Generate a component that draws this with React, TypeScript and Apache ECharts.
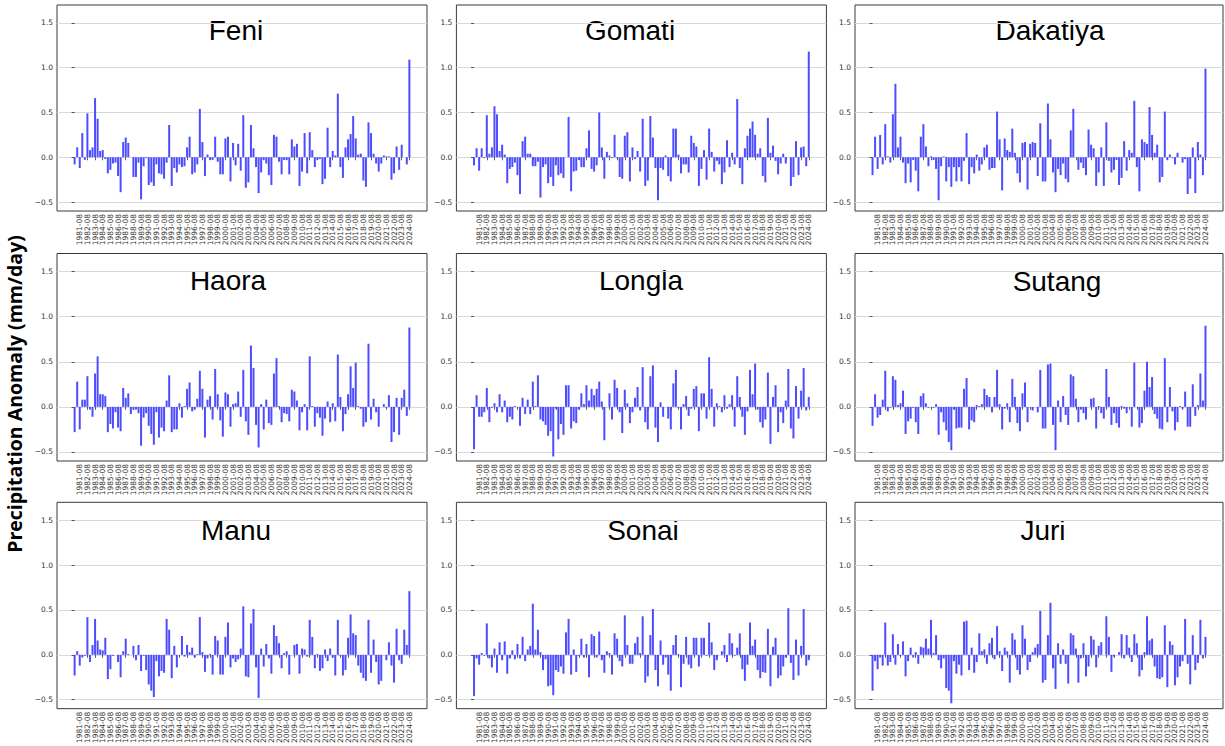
import React, { useEffect, useRef } from 'react';
import * as echarts from 'echarts';

// ---------- data ----------
const YEARS = Array.from({ length: 44 }, (_, k) => 1981 + k);
const MONTHS = ['06', '07', '08'];
const CATEGORIES: string[] = YEARS.flatMap((y) => MONTHS.map((m) => `${y}-${m}`));
const Y_TICKS = [-0.5, 0, 0.5, 1.0, 1.5];

const PANEL_NAMES = ['Feni', 'Gomati', 'Dakatiya', 'Haora', 'Longla', 'Sutang', 'Manu', 'Sonai', 'Juri'];

const FENI = [
  -0.08, 0.11, -0.12, 0.27, -0.03, 0.49, 0.08, 0.11, 0.66, 0.43, 0.07, 0.08,
  -0.02, -0.18, -0.14, -0.07, -0.06, -0.21, -0.39, 0.17, 0.22, 0.16, 0.0, -0.22,
  -0.22, -0.06, -0.47, -0.1, -0.01, -0.31, -0.28, -0.32, -0.08, -0.18, -0.19, -0.24,
  -0.06, 0.36, -0.32, -0.12, -0.17, -0.08, -0.11, -0.1, 0.11, 0.23, -0.19, -0.17,
  -0.08, 0.54, 0.17, -0.21, 0.03, -0.03, -0.03, 0.23, -0.05, -0.19, -0.19, 0.21,
  0.23, -0.27, 0.16, -0.09, 0.15, -0.15, 0.47, -0.34, -0.28, 0.36, 0.1, -0.11,
  -0.4, -0.17, -0.03, -0.07, -0.2, -0.31, 0.25, 0.23, -0.05, -0.19, -0.03, -0.03,
  -0.19, 0.2, 0.12, 0.15, -0.32, -0.16, 0.27, -0.18, 0.28, 0.08, -0.11, -0.03,
  -0.02, -0.3, -0.24, 0.33, -0.11, 0.07, 0.02, 0.71, -0.11, -0.23, 0.11, 0.2,
  0.26, 0.46, 0.21, 0.03, 0.04, -0.26, -0.33, 0.39, 0.27, 0.04, -0.07, -0.16,
  -0.07, 0.02, 0.01, 0.01, -0.25, -0.18, 0.12, -0.14, 0.14, 0.0, -0.08, 1.09,
];
const GOMATI = [
  -0.09, 0.1, -0.15, 0.1, -0.01, 0.47, 0.04, 0.11, 0.57, 0.48, 0.07, 0.14,
  0.03, -0.29, -0.13, -0.11, -0.06, -0.2, -0.41, 0.18, 0.23, 0.04, 0.04, -0.1,
  -0.1, -0.05, -0.45, -0.11, -0.08, -0.29, -0.22, -0.32, -0.09, -0.2, -0.18, -0.23,
  0.0, 0.45, -0.38, -0.16, -0.15, -0.03, -0.11, -0.11, 0.1, 0.3, -0.13, -0.16,
  -0.09, 0.5, 0.11, -0.24, 0.06, 0.02, -0.01, 0.25, -0.01, -0.22, -0.24, 0.24,
  0.28, -0.27, 0.11, -0.02, 0.07, -0.16, 0.43, -0.32, -0.26, 0.46, 0.22, -0.12,
  -0.48, -0.12, -0.14, 0.02, -0.21, -0.27, 0.32, 0.32, 0.03, -0.18, -0.08, -0.08,
  -0.17, 0.24, 0.16, 0.12, -0.32, -0.13, 0.08, -0.25, 0.32, 0.06, -0.16, -0.04,
  -0.08, -0.3, -0.17, 0.19, -0.11, 0.05, -0.08, 0.65, -0.12, -0.3, 0.1, 0.24,
  0.32, 0.4, 0.25, 0.04, 0.1, -0.21, -0.28, 0.44, 0.05, 0.13, -0.04, -0.19,
  -0.07, 0.04, -0.07, 0.0, -0.32, -0.22, 0.18, -0.2, 0.11, 0.12, -0.1, 1.18,
];
const DAKATIYA = [
  -0.2, 0.23, -0.13, 0.25, -0.08, 0.37, 0.01, -0.06, 0.48, 0.82, 0.11, 0.23,
  -0.06, -0.29, -0.07, -0.28, -0.03, -0.15, -0.38, 0.23, 0.37, 0.12, -0.1, 0.01,
  -0.03, -0.13, -0.48, -0.1, 0.01, -0.27, -0.11, -0.33, -0.11, -0.27, -0.11, -0.27,
  -0.04, 0.27, -0.3, -0.11, -0.18, 0.03, -0.15, -0.08, 0.11, 0.14, -0.14, -0.12,
  -0.12, 0.51, 0.2, -0.37, 0.21, 0.08, 0.06, 0.32, 0.05, -0.18, -0.28, 0.16,
  0.17, -0.36, 0.15, 0.17, 0.16, -0.21, 0.38, -0.27, -0.27, 0.6, 0.2, -0.17,
  -0.39, -0.13, -0.2, -0.07, -0.24, -0.28, 0.3, 0.54, 0.0, -0.14, -0.06, -0.12,
  -0.2, 0.31, 0.14, 0.1, -0.32, -0.17, 0.11, -0.32, 0.39, -0.04, -0.17, -0.14,
  -0.03, -0.31, -0.23, 0.18, -0.15, 0.08, 0.05, 0.63, -0.11, -0.38, 0.2, 0.17,
  0.15, 0.56, 0.25, 0.05, 0.14, -0.28, -0.22, 0.51, -0.03, 0.03, -0.01, -0.08,
  0.05, 0.0, -0.06, -0.02, -0.41, -0.24, 0.11, -0.4, 0.17, 0.03, -0.2, 0.99,
];
const HAORA = [
  -0.28, 0.28, -0.25, 0.08, 0.08, 0.34, -0.03, -0.11, 0.37, 0.56, 0.14, 0.14,
  0.12, -0.28, -0.19, -0.24, -0.06, -0.23, -0.27, 0.21, 0.1, 0.15, -0.08, -0.03,
  -0.03, -0.07, -0.43, -0.12, -0.07, -0.21, -0.3, -0.42, -0.06, -0.34, -0.23, -0.27,
  0.07, 0.35, -0.28, -0.25, -0.25, 0.04, -0.12, 0.01, 0.2, 0.27, -0.05, -0.03,
  0.09, 0.4, 0.2, -0.34, 0.08, 0.12, -0.14, 0.42, 0.14, -0.15, -0.33, 0.16,
  0.14, -0.22, 0.03, 0.04, 0.17, -0.11, 0.41, -0.16, -0.31, 0.68, 0.43, -0.2,
  -0.45, 0.03, -0.25, 0.08, -0.18, -0.2, 0.37, 0.54, 0.01, -0.17, -0.07, -0.08,
  -0.16, 0.19, 0.17, 0.07, -0.26, -0.06, 0.03, -0.26, 0.56, 0.01, -0.22, -0.07,
  -0.12, -0.32, -0.13, 0.06, -0.17, 0.04, -0.16, 0.58, 0.11, -0.27, -0.08, 0.14,
  0.45, 0.21, 0.49, 0.01, -0.02, -0.22, -0.17, 0.7, -0.14, 0.09, -0.06, -0.22,
  0.0, 0.03, -0.01, 0.13, -0.39, -0.28, 0.1, -0.31, 0.1, 0.19, -0.1, 0.88,
];
const LONGLA = [
  -0.47, 0.13, -0.11, -0.11, -0.06, 0.21, -0.17, -0.01, 0.04, -0.06, 0.14, -0.06,
  0.07, -0.17, -0.11, -0.14, 0.01, 0.0, -0.21, 0.1, -0.08, 0.08, -0.08, 0.28,
  0.01, 0.35, -0.14, -0.16, -0.2, -0.32, -0.27, -0.55, -0.02, -0.36, -0.19, -0.31,
  0.24, 0.24, -0.24, -0.16, -0.18, -0.03, 0.15, 0.03, 0.24, 0.07, 0.2, 0.13,
  0.2, 0.28, 0.06, -0.37, 0.0, 0.15, -0.14, 0.3, 0.21, -0.06, -0.29, 0.19,
  0.04, -0.18, -0.06, 0.1, 0.22, -0.04, 0.44, -0.17, -0.25, 0.34, 0.46, -0.23,
  -0.39, 0.05, -0.11, 0.0, -0.13, -0.25, 0.26, 0.41, -0.01, -0.25, 0.03, 0.12,
  -0.1, -0.02, 0.2, 0.23, -0.27, 0.15, 0.15, -0.13, 0.55, 0.2, -0.22, 0.04,
  0.01, -0.06, 0.13, -0.02, 0.03, 0.13, -0.22, 0.34, 0.11, -0.11, -0.31, -0.05,
  0.41, 0.14, 0.48, -0.03, -0.17, -0.23, -0.14, 0.38, -0.41, 0.11, 0.24, -0.28,
  -0.06, -0.18, 0.07, 0.42, -0.24, -0.35, 0.23, -0.13, 0.18, 0.43, -0.04, 0.11,
];
const SUTANG = [
  -0.21, 0.14, -0.12, -0.09, 0.08, 0.4, -0.05, -0.01, 0.34, 0.3, 0.02, 0.04,
  0.18, -0.3, -0.16, -0.13, -0.01, -0.17, -0.3, 0.12, 0.15, 0.04, -0.01, 0.0,
  -0.01, 0.03, -0.31, -0.06, -0.17, -0.26, -0.39, -0.48, -0.03, -0.24, -0.23, -0.23,
  0.2, 0.32, -0.25, -0.15, -0.17, 0.02, 0.01, 0.03, 0.2, 0.13, 0.11, -0.06,
  0.11, 0.41, 0.03, -0.25, -0.02, 0.04, -0.17, 0.31, 0.11, -0.18, -0.27, 0.15,
  0.27, -0.17, 0.0, -0.04, 0.0, -0.06, 0.41, -0.24, -0.24, 0.47, 0.48, -0.2,
  -0.48, 0.07, -0.17, 0.12, -0.09, -0.2, 0.36, 0.34, 0.09, -0.17, -0.03, -0.07,
  -0.14, 0.0, 0.09, 0.1, -0.24, 0.01, -0.07, -0.13, 0.42, 0.11, -0.2, -0.07,
  -0.18, -0.23, 0.01, -0.02, -0.07, 0.0, -0.22, 0.49, 0.0, -0.23, -0.18, 0.18,
  0.5, 0.22, 0.33, -0.08, -0.13, -0.24, -0.25, 0.54, -0.17, 0.22, -0.05, -0.26,
  -0.17, 0.01, -0.02, 0.17, -0.22, -0.22, 0.25, -0.1, 0.02, 0.37, 0.07, 0.9,
];
const MANU = [
  -0.23, 0.04, -0.12, -0.03, -0.01, 0.42, -0.08, 0.11, 0.4, 0.16, 0.06, 0.05,
  0.19, -0.27, -0.16, -0.01, 0.0, -0.08, -0.25, 0.04, 0.18, 0.01, 0.0, 0.1,
  -0.06, 0.11, -0.18, -0.01, -0.17, -0.33, -0.4, -0.47, -0.07, -0.24, -0.18, -0.2,
  0.4, 0.28, -0.26, 0.1, -0.14, 0.0, 0.21, -0.02, 0.11, 0.03, 0.08, -0.03,
  0.01, 0.42, 0.03, -0.19, -0.04, 0.01, -0.22, 0.21, 0.16, -0.22, -0.22, 0.2,
  0.36, -0.14, -0.04, -0.08, -0.05, 0.07, 0.54, -0.24, -0.25, 0.35, 0.51, -0.14,
  -0.48, 0.07, -0.13, 0.12, -0.04, -0.21, 0.33, 0.21, 0.13, -0.15, 0.02, 0.04,
  -0.22, 0.0, 0.11, 0.12, -0.21, 0.07, 0.06, -0.02, 0.39, 0.2, -0.15, 0.01,
  -0.18, -0.15, 0.06, -0.07, 0.07, -0.03, -0.23, 0.39, -0.01, -0.23, -0.17, 0.19,
  0.45, 0.24, 0.22, -0.12, -0.2, -0.26, -0.29, 0.39, -0.2, 0.17, -0.08, -0.33,
  -0.29, 0.0, -0.06, 0.14, -0.12, -0.31, 0.29, -0.06, -0.1, 0.28, 0.11, 0.71,
];
const SONAI = [
  -0.46, -0.04, -0.11, 0.02, -0.01, 0.35, -0.04, -0.14, 0.07, -0.2, 0.14, -0.06,
  0.15, -0.21, -0.04, 0.05, -0.05, 0.12, -0.04, 0.2, -0.07, 0.06, 0.1, 0.57,
  0.06, 0.28, 0.03, -0.17, -0.05, -0.35, -0.34, -0.45, -0.17, -0.19, -0.13, -0.21,
  0.25, 0.4, -0.22, 0.06, -0.19, -0.01, 0.18, -0.03, 0.12, -0.25, 0.23, 0.21,
  -0.03, 0.26, -0.06, -0.2, 0.04, 0.02, -0.22, 0.24, 0.18, -0.07, -0.13, 0.44,
  0.11, -0.1, -0.1, 0.13, 0.2, 0.02, 0.43, -0.31, -0.24, 0.22, 0.51, -0.17,
  -0.35, 0.16, -0.11, -0.03, -0.22, -0.4, 0.11, 0.22, 0.01, -0.36, -0.1, 0.2,
  -0.11, -0.15, 0.19, 0.19, -0.13, 0.19, 0.19, -0.01, 0.36, 0.14, -0.17, -0.06,
  0.0, 0.04, 0.11, -0.08, 0.24, 0.13, -0.01, 0.08, 0.24, -0.16, -0.29, -0.11,
  0.36, 0.1, 0.17, -0.17, -0.26, -0.19, -0.2, 0.29, -0.35, 0.09, 0.19, -0.26,
  -0.23, -0.13, -0.03, 0.52, -0.09, -0.28, 0.17, -0.23, 0.1, 0.51, -0.12, -0.06,
];
const JURI = [
  -0.4, -0.07, -0.16, -0.03, -0.12, 0.36, -0.12, -0.08, 0.23, -0.11, 0.12, -0.01,
  0.15, -0.24, -0.07, 0.08, -0.03, 0.03, -0.1, 0.09, 0.08, 0.18, 0.07, 0.39,
  0.02, 0.22, -0.06, -0.15, -0.04, -0.37, -0.4, -0.54, -0.07, -0.21, -0.11, -0.23,
  0.37, 0.38, -0.17, 0.08, -0.2, -0.08, 0.24, 0.04, 0.06, -0.1, 0.13, 0.19,
  -0.05, 0.32, 0.04, -0.18, 0.08, 0.04, -0.31, 0.24, 0.17, -0.17, -0.22, 0.33,
  0.18, -0.17, -0.08, 0.03, 0.08, 0.12, 0.49, -0.31, -0.28, 0.22, 0.58, -0.15,
  -0.38, 0.13, -0.1, 0.06, -0.1, -0.32, 0.24, 0.22, 0.07, -0.31, -0.04, 0.13,
  -0.24, -0.13, 0.21, 0.17, -0.14, 0.1, 0.14, 0.0, 0.43, 0.2, -0.19, -0.02,
  0.0, 0.03, 0.23, -0.04, 0.22, 0.08, -0.08, 0.23, 0.13, -0.24, -0.17, 0.03,
  0.43, 0.16, 0.18, -0.13, -0.26, -0.27, -0.25, 0.33, -0.36, 0.15, 0.11, -0.34,
  -0.25, -0.13, -0.07, 0.4, -0.1, -0.33, 0.22, -0.17, -0.09, 0.39, -0.04, 0.2,
];

const PANEL_DATA = [FENI, GOMATI, DAKATIYA, HAORA, LONGLA, SUTANG, MANU, SONAI, JURI];

// ---------- layout ----------
const COL_LEFT = [57, 456.4, 855];
const COL_WIDTH = [370, 370, 368];
const ROW_TOP = [5, 253.5, 502.3];
const ROW_HEIGHT = [206, 207.5, 208.4];
const TITLE_X = [236, 630, 1050, 228, 641, 1057, 236, 643, 1043];
const TITLE_Y = [30, 30, 30, 280, 280, 281, 530, 530, 530];
const X_MIN = -6.9;
const X_MAX = 137.9;

const TICK_IDX = CATEGORIES.map((c, i) => (c.endsWith('-08') ? i : -1)).filter((i) => i >= 0);
// blank guard labels at the axis ends so that ECharts' min/max overlap logic never hides real labels
const LABEL_VALUES = [X_MIN, ...TICK_IDX, X_MAX];
const BAR_COLOR = '#4d4dff';
const TEXT_COLOR = '#333333';

function fmtY(v: number) {
  const s = v.toFixed(1);
  return s.startsWith('-') ? '\u2212' + s.slice(1) : s;
}

export default function App() {
  const ref = useRef<HTMLDivElement>(null);
  useEffect(() => {
    if (!ref.current) return;
    const chart = echarts.init(ref.current, undefined, { renderer: 'svg' });
    const grids: any[] = [];
    const xAxes: any[] = [];
    const yAxes: any[] = [];
    const series: any[] = [];
    PANEL_DATA.forEach((vals, k) => {
      const r = Math.floor(k / 3);
      const c = k % 3;
      grids.push({
        left: COL_LEFT[c],
        top: ROW_TOP[r],
        width: COL_WIDTH[c],
        height: ROW_HEIGHT[r],
        show: true,
        borderColor: '#3a3a3a',
        borderWidth: 1,
        backgroundColor: 'transparent',
      });
      xAxes.push({
        type: 'value',
        gridIndex: k,
        min: X_MIN,
        max: X_MAX,
        axisLine: { show: false },
        splitLine: { show: false },
        axisTick: { show: true, customValues: TICK_IDX, length: 3, lineStyle: { color: '#333', width: 0.8 } },
        axisLabel: {
          customValues: LABEL_VALUES,
          formatter: (v: number) => (Number.isInteger(v) ? CATEGORIES[v] ?? '' : ''),
          rotate: 90,
          fontSize: 7.5,
          lineHeight: 7,
          color: TEXT_COLOR,
          margin: 3,
          fontFamily: 'DejaVu Sans',
          showMinLabel: true,
          showMaxLabel: true,
          hideOverlap: false,
        },
      });
      yAxes.push({
        type: 'value',
        gridIndex: k,
        min: -0.6,
        max: 1.7,
        axisLine: { show: false },
        axisTick: { show: true, customValues: Y_TICKS, length: 3, lineStyle: { color: '#333', width: 0.8 } },
        axisLabel: {
          customValues: Y_TICKS,
          formatter: (v: number) => fmtY(v),
          fontSize: 7.5,
          color: TEXT_COLOR,
          margin: 4,
          fontFamily: 'DejaVu Sans',
          showMinLabel: true,
          showMaxLabel: true,
        },
        splitLine: { show: true, lineStyle: { color: '#d9d9d9', width: 1 } },
      });
      series.push({
        type: 'bar',
        xAxisIndex: k,
        yAxisIndex: k,
        data: vals.map((v, i) => [i, v]),
        barWidth: 2,
        itemStyle: { color: BAR_COLOR },
        silent: true,
      });
    });

    const graphics: any[] = PANEL_NAMES.map((name, k) => ({
      type: 'text',
      x: TITLE_X[k],
      y: TITLE_Y[k],
      style: {
        text: name,
        fontSize: 28,
        fontFamily: 'Liberation Sans, Arial, sans-serif',
        fill: '#000',
        align: 'center',
        verticalAlign: 'middle',
      },
    }));
    graphics.push({
      type: 'text',
      x: 14,
      y: 394,
      rotation: Math.PI / 2,
      style: {
        text: 'Precipitation Anomaly (mm/day)',
        fontSize: 19.5,
        fontWeight: 'bold',
        fontFamily: 'Open Sans, Liberation Sans, sans-serif',
        fill: '#000',
        align: 'center',
        verticalAlign: 'middle',
      },
    });

    chart.setOption({
      animation: false,
      backgroundColor: '#ffffff',
      grid: grids,
      xAxis: xAxes,
      yAxis: yAxes,
      series,
      graphic: graphics,
    });
    return () => chart.dispose();
  }, []);
  return (
    <div
      ref={ref}
      style={{ position: 'absolute', left: 0, top: 0, width: 1225, height: 746 }}
    />
  );
}
